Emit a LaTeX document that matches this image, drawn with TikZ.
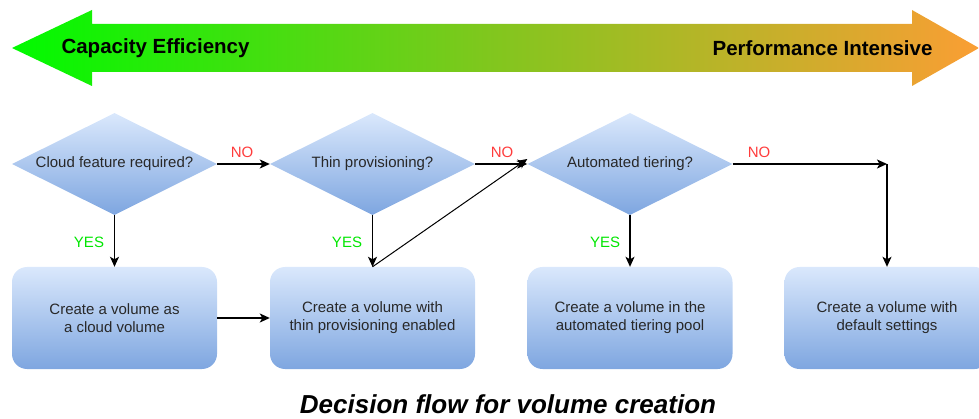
\documentclass[tikz,border=0pt]{standalone}
\usepackage{fontspec}
\setmainfont{Liberation Sans}
\usetikzlibrary{shapes.geometric,arrows.meta}
\definecolor{lblue}{RGB}{218,232,252}
\definecolor{dblue}{RGB}{126,166,224}
\definecolor{txtc}{RGB}{40,40,40}
\definecolor{yesc}{RGB}{0,230,0}
\definecolor{noc}{RGB}{255,60,60}
\definecolor{gA}{RGB}{0,250,0}
\definecolor{gB}{RGB}{130,198,30}
\definecolor{gC}{RGB}{250,158,52}
\tikzset{
  dec/.style={diamond, aspect=2, inner sep=0pt, minimum width=205pt, minimum height=102pt,
    top color=lblue, bottom color=dblue, draw=none, text=txtc, font=\fontsize{15}{18}\selectfont},
  act/.style={rectangle, rounded corners=15pt, minimum width=205pt, minimum height=102pt,
    top color=lblue, bottom color=dblue, draw=none, align=center, text=txtc,
    font=\fontsize{15}{18}\selectfont},
  arr/.style={draw=black, line width=1.3pt, -{Stealth[length=10pt,width=9pt,inset=2.5pt]}},
  yeslbl/.style={text=yesc, font=\fontsize{15}{18}\selectfont},
  nolbl/.style={text=noc, font=\fontsize{15}{18}\selectfont},
  bigtxt/.style={font=\fontsize{20.5}{24}\selectfont\bfseries, text=black}
}
\begin{document}
\begin{tikzpicture}[x=1pt,y=-1pt]
\useasboundingbox (0,0) rectangle (979,419);
\clip (0,0) rectangle (979,419);
% big gradient double arrow
\shade[left color=gA, right color=gC, middle color=gB]
  (12,48) -- (92,10) -- (92,24) -- (912,24) -- (912,10) -- (979,48) -- (912,86) -- (912,72) -- (92,72) -- (92,86) -- cycle;
\node[bigtxt, anchor=west] (ce) at (58,48) {Capacity Efficiency};
\node[bigtxt, anchor=east] (pi) at (936,48) {Performance Intensive};

% decisions
\node[dec] (d1) at (114.5,164) {Cloud feature required?};
\node[dec] (d2) at (372.5,164) {Thin provisioning?};
\node[dec] (d3) at (630,164) {Automated tiering?};
% actions
\node[act] (b1) at (114.5,318) {Create a volume as\\a cloud volume};
\node[act] (b2) at (372.5,318) {Create a volume with\\thin provisioning enabled};
\node[act] (b3) at (630,318) {Create a volume in the\\automated tiering pool};
\node[act] (b4) at (887,318) {Create a volume with\\default settings};
\coordinate (c4) at (887,164);

% connectors
\draw[arr] (d1.south) -- (b1.north);
\draw[arr] (d2.south) -- (b2.north);
\draw[arr] (d3.south) -- (b3.north);
\draw[arr] (d1.east) -- (d2.west);
\draw[arr] (d2.east) -- (d3.west);
\draw[arr] (b1.east) -- (b2.west);
\draw[arr, line width=1pt] (b2.north) -- ([yshift=5pt]d3.west);
\draw[arr] (d3.east) -- (c4);
\draw[arr] (c4) -- (b4.north);

% labels
\node[yeslbl] (y1) at (89,242) {YES};
\node[yeslbl] (y2) at (347,242) {YES};
\node[yeslbl] (y3) at (605,242) {YES};
\node[nolbl] (n1) at (242,152) {NO};
\node[nolbl] (n2) at (502,152) {NO};
\node[nolbl] (n3) at (759,152) {NO};

\node[font=\fontsize{26}{30}\selectfont\bfseries\itshape, anchor=base, inner sep=0pt, text depth=0pt] (cap) at (508,413) {Decision flow for volume creation};
\end{tikzpicture}
\end{document}
